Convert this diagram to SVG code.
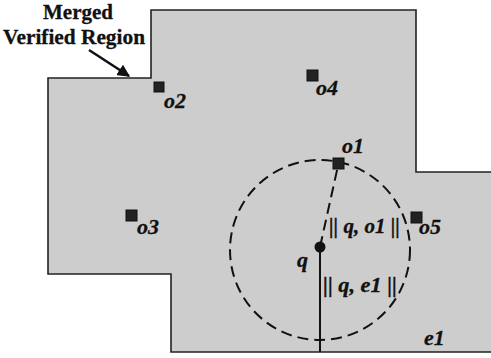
<svg xmlns="http://www.w3.org/2000/svg" width="491" height="358" viewBox="0 0 491 358">
<style>
.lbl{font-family:"Liberation Serif","Times New Roman",serif;font-weight:bold;font-style:italic;font-size:22px;fill:#111;stroke:#111;stroke-width:0.3}
.nrm{font-size:20px}
.title{font-family:"Liberation Serif","Times New Roman",serif;font-weight:bold;font-size:21px;fill:#111;stroke:#111;stroke-width:0.3}
.obj{fill:#222;stroke:#111;stroke-width:1}
.dash{fill:none;stroke:#111;stroke-width:2;stroke-dasharray:11,6}
</style>
<defs>
<marker id="ah" viewBox="0 0 10 10" refX="9" refY="5" markerWidth="5" markerHeight="5" orient="auto" markerUnits="strokeWidth">
<path d="M0,0 L10,5 L0,10 z" fill="#111"/>
</marker>
</defs>
<rect width="491" height="358" fill="#fff"/>
<g id="region">
<polygon points="151,10 416,10 416,172 495,172 495,352 171,352 171,274 48,274 48,78 151,78" fill="#cdcdcd" stroke="#222" stroke-width="1.6"/>
</g>
<g id="label-region">
<text class="title" x="78" y="19" text-anchor="middle">Merged</text>
<text class="title" x="74" y="44" text-anchor="middle" textLength="142" lengthAdjust="spacingAndGlyphs">Verified Region</text>
</g>
<g id="connectors">
<line x1="89" y1="50" x2="129" y2="76" stroke="#111" stroke-width="2.5" marker-end="url(#ah)"/>
<circle cx="320" cy="250" r="90" class="dash"/>
<line x1="320" y1="247" x2="338.5" y2="163.5" class="dash" stroke-dasharray="9,6"/>
<line x1="320" y1="247" x2="320" y2="352" stroke="#111" stroke-width="2"/>
</g>
<g id="o1"><rect class="obj" x="333" y="158" width="11" height="11"/><text class="lbl" x="342" y="153">o1</text></g>
<g id="o2"><rect class="obj" x="154" y="82" width="10" height="10"/><text class="lbl" x="164" y="108">o2</text></g>
<g id="o3"><rect class="obj" x="126" y="210" width="11" height="11"/><text class="lbl" x="137" y="234">o3</text></g>
<g id="o4"><rect class="obj" x="307" y="70" width="11" height="11"/><text class="lbl" x="316" y="95">o4</text></g>
<g id="o5"><rect class="obj" x="411" y="212" width="11" height="11"/><text class="lbl" x="419" y="234">o5</text></g>
<g id="q"><circle cx="320" cy="247" r="5.5" fill="#111"/><text class="lbl" x="297" y="267">q</text></g>
<g id="e1"><text class="lbl" x="424" y="345">e1</text></g>
<g id="dist-labels">
<text class="lbl nrm" x="329" y="233" textLength="71" lengthAdjust="spacingAndGlyphs">|| q, o1 ||</text>
<text class="lbl nrm" x="323" y="292" textLength="74" lengthAdjust="spacingAndGlyphs">|| q, e1 ||</text>
</g>
</svg>
